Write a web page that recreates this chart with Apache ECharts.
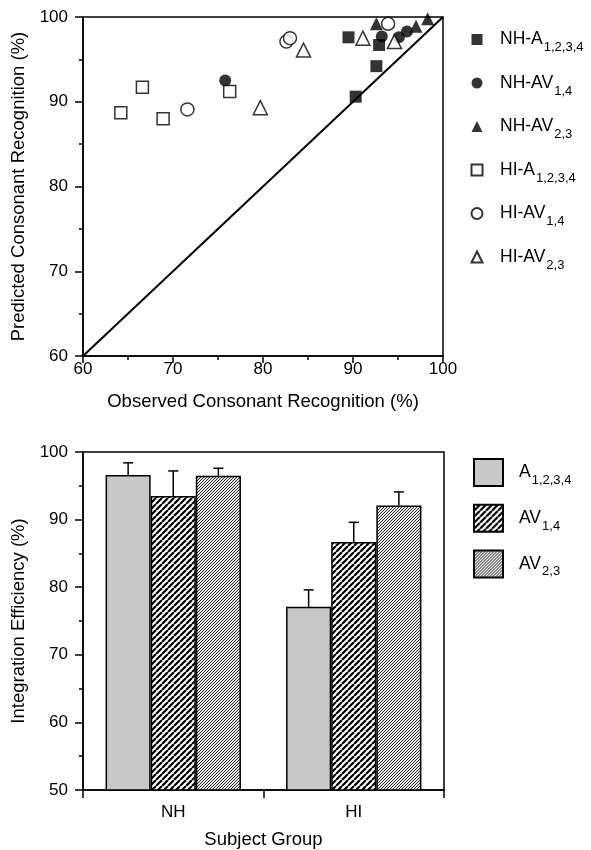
<!DOCTYPE html>
<html><head><meta charset="utf-8">
<script src="https://cdn.jsdelivr.net/npm/echarts@6/dist/echarts.min.js"></script>
<style>html,body{margin:0;padding:0;background:#fff}#c{width:591px;height:850px}</style>
</head><body><div id="c"></div>
<script>
// ---- Top panel data: [observed, predicted] ----
const nhA    = [[89.5,97.6],[92.9,96.7],[92.6,94.2],[90.3,90.6]];
const nhAV14 = [[75.8,92.5],[93.2,97.7],[95.1,97.6],[96.0,98.3]];
const nhAV23 = [[92.6,99.2],[97.0,98.9],[98.3,99.8]];
const hiA    = [[64.2,88.7],[66.6,91.7],[68.9,88.0],[76.3,91.2]];
const hiAV14 = [[71.6,89.1],[82.6,97.1],[83.0,97.5],[93.9,99.2]];
const hiAV23 = [[79.7,89.3],[84.5,96.1],[91.1,97.5],[94.6,97.1]];
const diagonal = [[60,60],[100,100]];
const scatterNames = ['NH-A 1,2,3,4','NH-AV 1,4','NH-AV 2,3','HI-A 1,2,3,4','HI-AV 1,4','HI-AV 2,3'];

// ---- Bottom panel data ----
const groups   = ['NH','HI'];
const barNames = ['A 1,2,3,4','AV 1,4','AV 2,3'];
const effA     = [96.6, 77.1];
const errA     = [1.8, 2.5];
const effAV14  = [93.5, 86.7];
const errAV14  = [3.7, 2.9];
const effAV23  = [96.5, 92.1];
const errAV23  = [1.1, 2.0];

const FONT = 'Liberation Sans, Arial, sans-serif';

function hatch(size, lw, fg, bg){
  const c = document.createElement('canvas');
  c.width = c.height = size;
  const g = c.getContext('2d');
  g.fillStyle = bg; g.fillRect(0,0,size,size);
  g.strokeStyle = fg; g.lineWidth = lw; g.beginPath();
  for (let k=-1;k<=1;k++){ g.moveTo(k*size, size); g.lineTo(k*size+size, 0); }
  g.stroke();
  return c;
}
const patAV14 = {image: hatch(6, 2.2, '#000', '#fff'), repeat:'repeat'};
const patAV23 = {image: hatch(3, 1, '#333', '#e4e4e4'), repeat:'repeat'};

const fmt = n => { const i = n.indexOf(' '); return '{a|' + n.slice(0,i) + '}{s|' + n.slice(i+1) + '}'; };

const axisLine = {show:true, lineStyle:{color:'#000', width:1.5}};
const tickStyle = {color:'#000', width:1.5};

function hollow(){ return {color:'#fff', borderColor:'#000', borderWidth:1.5}; }
function filled(){ return {color:'#000', borderColor:'#000', borderWidth:0}; }

function errSeries(idx, vals, errs){
  return {
    type:'custom', xAxisIndex:1, yAxisIndex:1, z:5,
    data: vals.map((v,i)=>[i, v, v+errs[i]]),
    renderItem(params, api){
      const band = api.size([1,0])[0];
      const off = (idx-1)*band*0.25;
      const p0 = api.coord([api.value(0), api.value(1)]);
      const p1 = api.coord([api.value(0), api.value(2)]);
      const x = p0[0]+off;
      return {type:'group', children:[
        {type:'line', shape:{x1:x,y1:p0[1],x2:x,y2:p1[1]}, style:{stroke:'#000', lineWidth:1.5}},
        {type:'line', shape:{x1:x-5,y1:p1[1],x2:x+5,y2:p1[1]}, style:{stroke:'#000', lineWidth:1.5}}
      ]};
    }
  };
}

const chart = echarts.init(document.getElementById('c'), null, {renderer:'canvas'});
const subStyle = {fontSize:13, fontFamily:FONT, color:'#000', padding:[16,0,0,1]};
chart.setOption({
  animation:false,
  backgroundColor:'#fff',
  textStyle:{fontFamily:FONT, color:'#000'},
  grid:[
    {left:83, top:17, width:360, height:339, show:true, borderColor:'#000', borderWidth:1.5},
    {left:83, top:452, width:361, height:339, show:true, borderColor:'#000', borderWidth:1.5}
  ],
  legend:[
    {orient:'vertical', left:470.5, top:30.5, padding:0, itemWidth:11, itemHeight:11, itemGap:20,
     data:scatterNames, formatter:fmt, selectedMode:false,
     textStyle:{rich:{a:{fontSize:17.5, fontFamily:FONT, color:'#000', padding:[0,0,0,12.5]}, s:subStyle}}},
    {orient:'vertical', left:473, top:458, padding:0, itemWidth:29, itemHeight:27, itemGap:16.7, icon:'rect',
     data:barNames, formatter:fmt, selectedMode:false,
     textStyle:{rich:{a:{fontSize:17.5, fontFamily:FONT, color:'#000', padding:[0,0,0,11]}, s:subStyle}}}
  ],
  xAxis:[
    {type:'value', gridIndex:0, min:60, max:100, interval:10,
     axisLine, axisTick:{show:true, length:7, lineStyle:tickStyle},
     minorTick:{show:true, splitNumber:2, length:4, lineStyle:tickStyle},
     splitLine:{show:false}, minorSplitLine:{show:false},
     axisLabel:{fontSize:17, color:'#000', margin:5, fontFamily:FONT},
     name:'Observed Consonant Recognition (%)', nameLocation:'middle', nameGap:36,
     nameTextStyle:{fontSize:18.5, color:'#000', fontFamily:FONT}},
    {type:'category', gridIndex:1, data:groups,
     axisLine, axisTick:{show:true, length:8, lineStyle:tickStyle},
     axisLabel:{fontSize:17, color:'#000', margin:14, fontFamily:FONT},
     name:'Subject Group', nameLocation:'middle', nameGap:40,
     nameTextStyle:{fontSize:18.5, color:'#000', fontFamily:FONT}}
  ],
  yAxis:[
    {type:'value', gridIndex:0, min:60, max:100, interval:10,
     axisLine, axisTick:{show:true, length:8, lineStyle:tickStyle},
     minorTick:{show:true, splitNumber:2, length:4, lineStyle:tickStyle},
     splitLine:{show:false},
     axisLabel:{fontSize:17, color:'#000', margin:15, fontFamily:FONT},
     name:'Predicted Consonant Recognition (%)', nameLocation:'middle', nameGap:52,
     nameTextStyle:{fontSize:18.5, color:'#000', fontFamily:FONT}},
    {type:'value', gridIndex:1, min:50, max:100, interval:10,
     axisLine, axisTick:{show:true, length:8, lineStyle:tickStyle},
     minorTick:{show:true, splitNumber:2, length:4, lineStyle:tickStyle},
     splitLine:{show:false},
     axisLabel:{fontSize:17, color:'#000', margin:15, fontFamily:FONT},
     name:'Integration Efficiency (%)', nameLocation:'middle', nameGap:54,
     nameTextStyle:{fontSize:18.5, color:'#000', fontFamily:FONT}}
  ],
  series:[
    {type:'line', xAxisIndex:0, yAxisIndex:0, data:diagonal, showSymbol:false, silent:true,
     lineStyle:{color:'#000', width:2}, z:1},
    {name:scatterNames[0], type:'scatter', data:nhA, symbol:'rect', symbolSize:12, itemStyle:filled(), z:3},
    {name:scatterNames[1], type:'scatter', data:nhAV14, symbol:'circle', symbolSize:12, itemStyle:filled(), z:3},
    {name:scatterNames[2], type:'scatter', data:nhAV23, symbol:'triangle', symbolSize:13, itemStyle:filled(), z:3},
    {name:scatterNames[3], type:'scatter', data:hiA, symbol:'rect', symbolSize:12, itemStyle:hollow(), z:3},
    {name:scatterNames[4], type:'scatter', data:hiAV14, symbol:'circle', symbolSize:13, itemStyle:hollow(), z:3},
    {name:scatterNames[5], type:'scatter', data:hiAV23, symbol:'triangle', symbolSize:14, itemStyle:hollow(), z:3},
    {name:barNames[0], type:'bar', xAxisIndex:1, yAxisIndex:1, data:effA, barGap:'0%', barCategoryGap:'25%',
     itemStyle:{color:'#c8c8c8', borderColor:'#000', borderWidth:1.5}},
    {name:barNames[1], type:'bar', xAxisIndex:1, yAxisIndex:1, data:effAV14, barGap:'0%', barCategoryGap:'25%',
     itemStyle:{color:patAV14, borderColor:'#000', borderWidth:1.5}},
    {name:barNames[2], type:'bar', xAxisIndex:1, yAxisIndex:1, data:effAV23, barGap:'0%', barCategoryGap:'25%',
     itemStyle:{color:patAV23, borderColor:'#000', borderWidth:1.5}},
    errSeries(0, effA, errA),
    errSeries(1, effAV14, errAV14),
    errSeries(2, effAV23, errAV23)
  ]
});
</script></body></html>
